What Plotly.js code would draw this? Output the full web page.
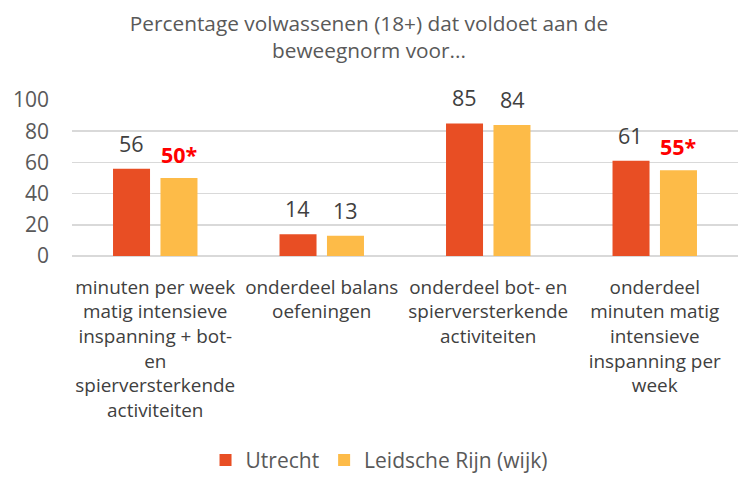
<!DOCTYPE html>
<html><head><meta charset="utf-8">
<script src="https://cdn.plot.ly/plotly-3.0.1.min.js"></script>
<style>body{margin:0}#c{width:738px;height:481px}</style>
</head><body><div id="c"></div>
<script>
const categories = [
  "minuten per week<br>matig intensieve<br>inspanning + bot-<br>en<br>spierversterkende<br>activiteiten",
  "onderdeel balans<br>oefeningen",
  "onderdeel bot- en<br>spierversterkende<br>activiteiten",
  "onderdeel<br>minuten matig<br>intensieve<br>inspanning per<br>week"
];
const utrecht = [56, 14, 85, 61];
const leidsche = [50, 13, 84, 55];
const leidscheSignificant = [true, false, false, true];
const seriesNames = ["Utrecht", "Leidsche Rijn (wijk)"];

const cUtr = "#E84E24", cLei = "#FDBB48";
const font = "'Open Sans', Lato, sans-serif";

const traces = [
  {type:"bar", name:seriesNames[0], x:categories, y:utrecht, marker:{color:cUtr}, hoverinfo:"none"},
  {type:"bar", name:seriesNames[1], x:categories, y:leidsche, marker:{color:cLei}, hoverinfo:"none"}
];

const ann = [];
categories.forEach((c,i)=>{
  ann.push({x:c, y:utrecht[i], xref:"x", yref:"y", text:String(utrecht[i]), showarrow:false,
    yanchor:"bottom", yshift:9, xshift:-24, font:{family:font, size:21.5, color:"#404040"}});
  const sig = leidscheSignificant[i];
  ann.push({x:c, y:leidsche[i], xref:"x", yref:"y", text: sig ? "<b>"+leidsche[i]+"*</b>" : String(leidsche[i]), showarrow:false,
    yanchor:"bottom", yshift:sig?7:9, xshift:24, font:{family:font, size:21.5, color: sig ? "#FF0000" : "#404040"}});
});

const layout = {
  width:738, height:481,
  margin:{l:72, r:0, t:100, b:220},
  paper_bgcolor:"#fff", plot_bgcolor:"#fff",
  title:{text:"Percentage volwassenen (18+) dat voldoet aan de<br>beweegnorm voor...", x:0.5, xanchor:"center", yref:"container", y:0.935, yanchor:"middle",
    font:{family:font, size:20.8, color:"#595959"}},
  barmode:"group", bargap:0.43, bargroupgap:0.22,
  xaxis:{type:"category", tickfont:{family:font, size:18.9, color:"#404040"}, showgrid:false, showline:false, ticks:"", ticklabelstandoff:18},
  yaxis:{range:[0,100], dtick:20, tick0:0, showgrid:true, gridcolor:"#D9D9D9", gridwidth:1.5, zeroline:true, zerolinecolor:"#D9D9D9", zerolinewidth:1.5,
    tickfont:{family:font, size:21, color:"#595959"}, ticks:"", ticklabelstandoff:22, fixedrange:true},
  legend:{orientation:"h", x:0.461, xanchor:"center", y:-1.31, yanchor:"middle", font:{family:font, size:21, color:"#595959"}, itemwidth:30, traceorder:"normal"},
  annotations:ann,
  showlegend:true
};
Plotly.newPlot("c", traces, layout, {displayModeBar:false, staticPlot:true});
</script></body></html>
